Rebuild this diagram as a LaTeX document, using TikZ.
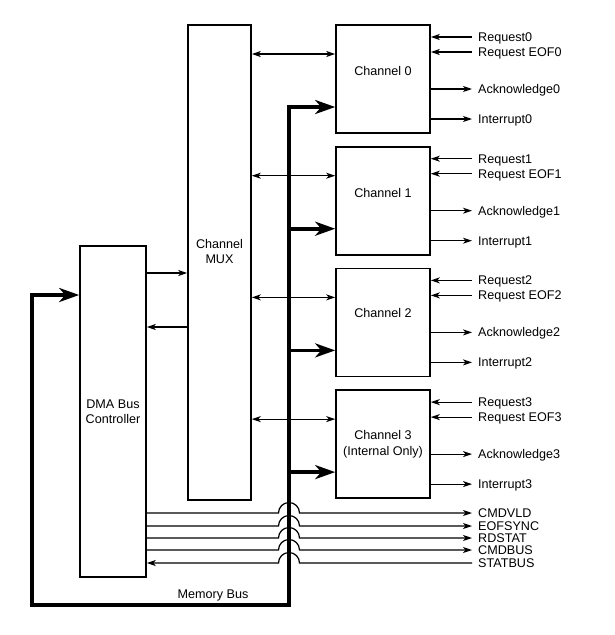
\documentclass[tikz,border=0pt]{standalone}
\usepackage{fontspec}
\setmainfont{Liberation Sans}
\usetikzlibrary{arrows.meta}
\begin{document}
\begin{tikzpicture}[x=1pt,y=-1pt,font=\fontsize{12.6}{15.5}\selectfont,
>={Stealth[length=9pt,width=6pt,inset=2.5pt]},
box/.style={draw,line width=1.6pt,inner sep=0pt,align=center},
sig/.style={line width=1.2pt},
bus/.style={line width=3.8pt,>={Stealth[length=20pt,width=14pt,inset=6pt]}},
lbl/.style={anchor=west,inner xsep=6pt,inner ysep=0pt,text height=9pt,text depth=0pt}]
\useasboundingbox(0,0)rectangle(615,635);
% mux and bus controller
\node[box,minimum width=63pt,minimum height=475pt](mux)at(219.5,262.5){};
\node[align=center](muxlbl)at([yshift=11pt]mux.center){Channel\\MUX};
\node[box,minimum width=66pt,minimum height=331pt](dma)at(113,411.5){DMA Bus\\Controller};
\draw[sig,->](dma.east|-0,273)--(mux.west|-0,273);
\draw[sig,<-](dma.east|-0,327)--(mux.west|-0,327);
% channels
\foreach\i/\txt/\up in{0/Channel 0/8,1/Channel 1/8,2/Channel 2/9,3/{Channel 3\\(Internal Only)}/0}{
\node[box,minimum width=94pt,minimum height=108pt](ch\i)at(383,79+121.7*\i){};
\node[align=center](ch\i lbl)at([yshift=\up pt]ch\i.center){\txt};
\draw[sig,<->](mux.east|-0,54+121.7*\i)--(ch\i.west|-0,54+121.7*\i);
\coordinate(tap\i)at(289,107+121.7*\i);
\node[lbl](req\i)at(472,37+121.7*\i){Request\i};
\node[lbl](eof\i)at(472,52+121.7*\i){Request EOF\i};
\node[lbl](ack\i)at(472,89+121.7*\i){Acknowledge\i};
\node[lbl](int\i)at(472,119+121.7*\i){Interrupt\i};
\draw[sig,<-](req\i-|ch\i.east)--(req\i.west);
\draw[sig,<-](eof\i-|ch\i.east)--(eof\i.west);
\draw[sig,->](ack\i-|ch\i.east)--(ack\i.west);
\draw[sig,->](int\i-|ch\i.east)--(int\i.west);
}
% memory bus
\coordinate(membus)at(289,605);
\coordinate(busleft)at(32,295);
\foreach\i in{1,2,3}\draw[bus,->](tap\i)--(tap\i-|ch\i.west);
\draw[bus,<->](tap0-|ch0.west)--(tap0)--(membus)-|(busleft)--(busleft-|dma.west);
\node(membuslbl)at(213,595){Memory Bus};
% status lines, hopping over the bus
\foreach\n/\t/\y in{cmdvld/CMDVLD/513,eofsync/EOFSYNC/526,rdstat/RDSTAT/538,cmdbus/CMDBUS/550,statbus/STATBUS/563}
\node[lbl](\n)at(472,\y){\t};
\foreach\n/\y in{cmdvld/513,eofsync/526,rdstat/538,cmdbus/550}
\draw[sig,->](dma.east|-\n)--(278.5,\y)arc[start angle=180,end angle=0,radius=10.5pt]--(\n.west);
\draw[sig,<-](dma.east|-statbus)--(278.5,563)arc[start angle=180,end angle=0,radius=10.5pt]--(statbus.west);
\end{tikzpicture}
\end{document}
